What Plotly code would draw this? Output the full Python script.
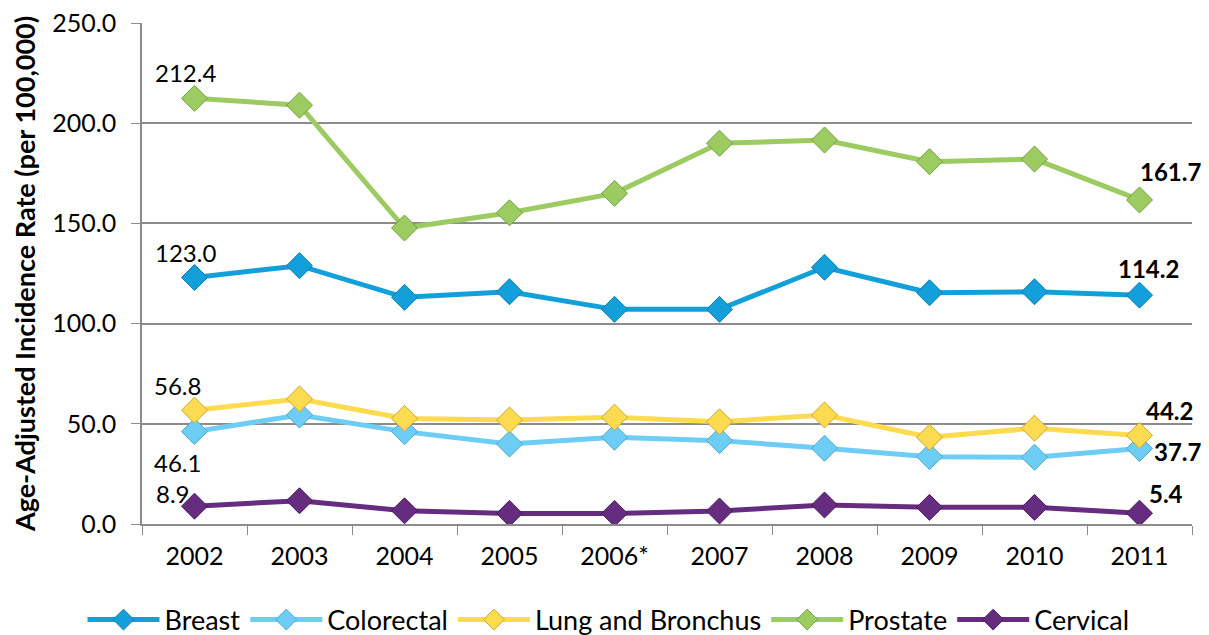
import plotly.graph_objects as go

years = ["2002", "2003", "2004", "2005", "2006*", "2007", "2008", "2009", "2010", "2011"]
breast = [123.0, 128.9, 113.1, 115.9, 107.1, 107.1, 128.1, 115.4, 115.9, 114.2]
colorectal = [46.1, 54.4, 46.1, 39.9, 43.3, 41.6, 37.8, 33.6, 33.3, 37.7]
lung = [56.8, 62.4, 52.7, 51.9, 53.3, 51.0, 54.4, 43.3, 47.8, 44.2]
prostate = [212.4, 209.0, 147.7, 155.3, 165.0, 190.0, 191.6, 180.8, 182.1, 161.7]
cervical = [8.9, 11.6, 6.6, 5.3, 5.3, 6.5, 9.5, 8.3, 8.3, 5.4]

series = [
    ("Breast", breast, "#13A0DA", "#0B7FB0"),
    ("Colorectal", colorectal, "#6DCDF4", "#4AA8CF"),
    ("Lung and Bronchus", lung, "#FDDB50", "#C9A92E"),
    ("Prostate", prostate, "#9CCB62", "#73A040"),
    ("Cervical", cervical, "#652C7F", "#4A1D5E"),
]

FONT = "Lato, 'Open Sans', sans-serif"
# page body has an 8px default margin; size the figure to the visible window
W, H = 1209 - 8, 635 - 8

fig = go.Figure()
for name, vals, col, edge in series:
    fig.add_trace(go.Scatter(
        x=years, y=vals, name=name, mode="lines+markers",
        line=dict(color=col, width=5),
        marker=dict(symbol="diamond", size=20, color=col, line=dict(color=edge, width=1)),
    ))

first, last = 0, len(years) - 1
# first/last value labels: (value, category index, xshift, yshift, bold)
labels = [
    (prostate[first], first, -9, 26, False),
    (breast[first], first, -9, 25, False),
    (lung[first], first, -17, 25, False),
    (colorectal[first], first, -17, -31, False),
    (cervical[first], first, -22, 13, False),
    (prostate[last], last, 31, 28, True),
    (breast[last], last, 9, 27, True),
    (lung[last], last, 30, 25, True),
    (colorectal[last], last, 38, -3, True),
    (cervical[last], last, 26, 20, True),
]
for v, idx, xs, ys, bold in labels:
    txt = f"{v:.1f}"
    fig.add_annotation(
        x=idx, y=v, xref="x", yref="y",
        text=f"<b>{txt}</b>" if bold else txt,
        showarrow=False, xshift=xs, yshift=ys,
        font=dict(family=FONT, size=24, color="#000000"),
    )

fig.update_layout(
    width=W, height=H,
    margin=dict(l=134, r=17, t=15, b=111, autoexpand=False),
    paper_bgcolor="white", plot_bgcolor="white",
    font=dict(family=FONT, size=25, color="#000000"),
    showlegend=True,
    legend=dict(
        orientation="h", x=0.5, xanchor="center", xref="container",
        y=(H - 612) / H, yanchor="middle", yref="container",
        font=dict(family=FONT, size=27), itemwidth=72, tracegroupgap=0,
    ),
)
fig.update_xaxes(
    type="category", showline=True, linecolor="#8C8C8C", linewidth=1.5,
    ticks="outside", tickson="boundaries", ticklen=9, tickcolor="#8C8C8C",
    showgrid=False, tickfont=dict(family=FONT, size=25), ticklabelstandoff=9,
    range=[-0.5, 9.5], automargin=False, ticklabeloverflow="allow",
)
fig.update_yaxes(
    range=[0, 250], dtick=50, tickformat=".1f",
    showline=True, linecolor="#8C8C8C", linewidth=1.5,
    showgrid=True, gridcolor="#8C8C8C", gridwidth=1.5,
    ticks="outside", ticklen=9, tickcolor="#8C8C8C", ticklabelstandoff=10,
    zeroline=False, tickfont=dict(family=FONT, size=25), automargin=False,
    ticklabeloverflow="allow",
    title=dict(text="<b>Age-Adjusted Incidence Rate (per 100,000)</b>",
               font=dict(family=FONT, size=27), standoff=10),
)

fig.write_html("out.html")
